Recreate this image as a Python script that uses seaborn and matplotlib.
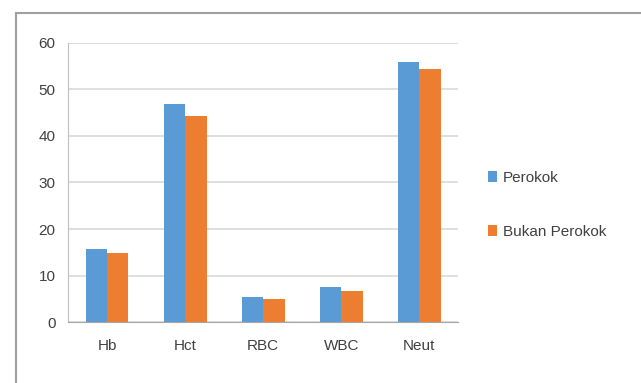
import numpy as np
import pandas as pd
import seaborn as sns
import matplotlib.pyplot as plt
from matplotlib.lines import Line2D
from matplotlib.ticker import FixedLocator

categories = ["Hb", "Hct", "RBC", "WBC", "Neut"]
perokok = [15.7, 46.9, 5.4, 7.6, 55.8]
bukan_perokok = [14.8, 44.2, 5.0, 6.7, 54.3]
series = ["Perokok", "Bukan Perokok"]

df = pd.DataFrame({
    "kategori": categories * 2,
    "nilai": perokok + bukan_perokok,
    "kelompok": [series[0]] * 5 + [series[1]] * 5,
})

sns.set_style("white")
plt.rcParams['font.family'] = ['Liberation Sans', 'DejaVu Sans']

fig = plt.figure(figsize=(6.41, 3.83), dpi=100)
ax = fig.add_axes([0.106, 0.159, 0.609, 0.729])

sns.barplot(data=df, x="kategori", y="nilai", hue="kelompok", order=categories,
            hue_order=series, palette=["#5B9BD5", "#ED7D31"], width=0.55,
            saturation=1, linewidth=0, ax=ax)

ax.set_ylim(0, 60)
ax.set_xlim(-0.5, 4.5)
ax.set_yticks(range(0, 61, 10))
ax.yaxis.grid(True, color="#d9d9d9", linewidth=1.2)
ax.set_axisbelow(True)
ax.set_xlabel("")
ax.set_ylabel("")

for s in ["top", "right"]:
    ax.spines[s].set_visible(False)
ax.spines["left"].set_color("#bfbfbf")
ax.spines["bottom"].set_color("#a6a6a6")

ax.tick_params(axis="y", length=5, color="#d9d9d9", labelsize=11, labelcolor="#404040", pad=4)
ax.tick_params(axis="x", which="major", length=0, labelsize=11, labelcolor="#404040", pad=12)
ax.xaxis.set_minor_locator(FixedLocator(np.arange(-0.5, 5, 1)))
ax.tick_params(axis="x", which="minor", length=5, color="#a6a6a6", direction="out")

leg = ax.legend(loc="center left", bbox_to_anchor=(1.04, 0.42), frameon=False,
                fontsize=11, handlelength=0.6, handleheight=0.7, labelspacing=2.6,
                handletextpad=0.4)
for t in leg.get_texts():
    t.set_color("#404040")

fig.add_artist(Line2D([16 / 641, 1], [1 - 13 / 383, 1 - 13 / 383], color="#a0a0a0", linewidth=1.5))
fig.add_artist(Line2D([16 / 641, 16 / 641], [0, 1 - 13 / 383], color="#a0a0a0", linewidth=1.5))

plt.savefig("out.png", dpi=100)
